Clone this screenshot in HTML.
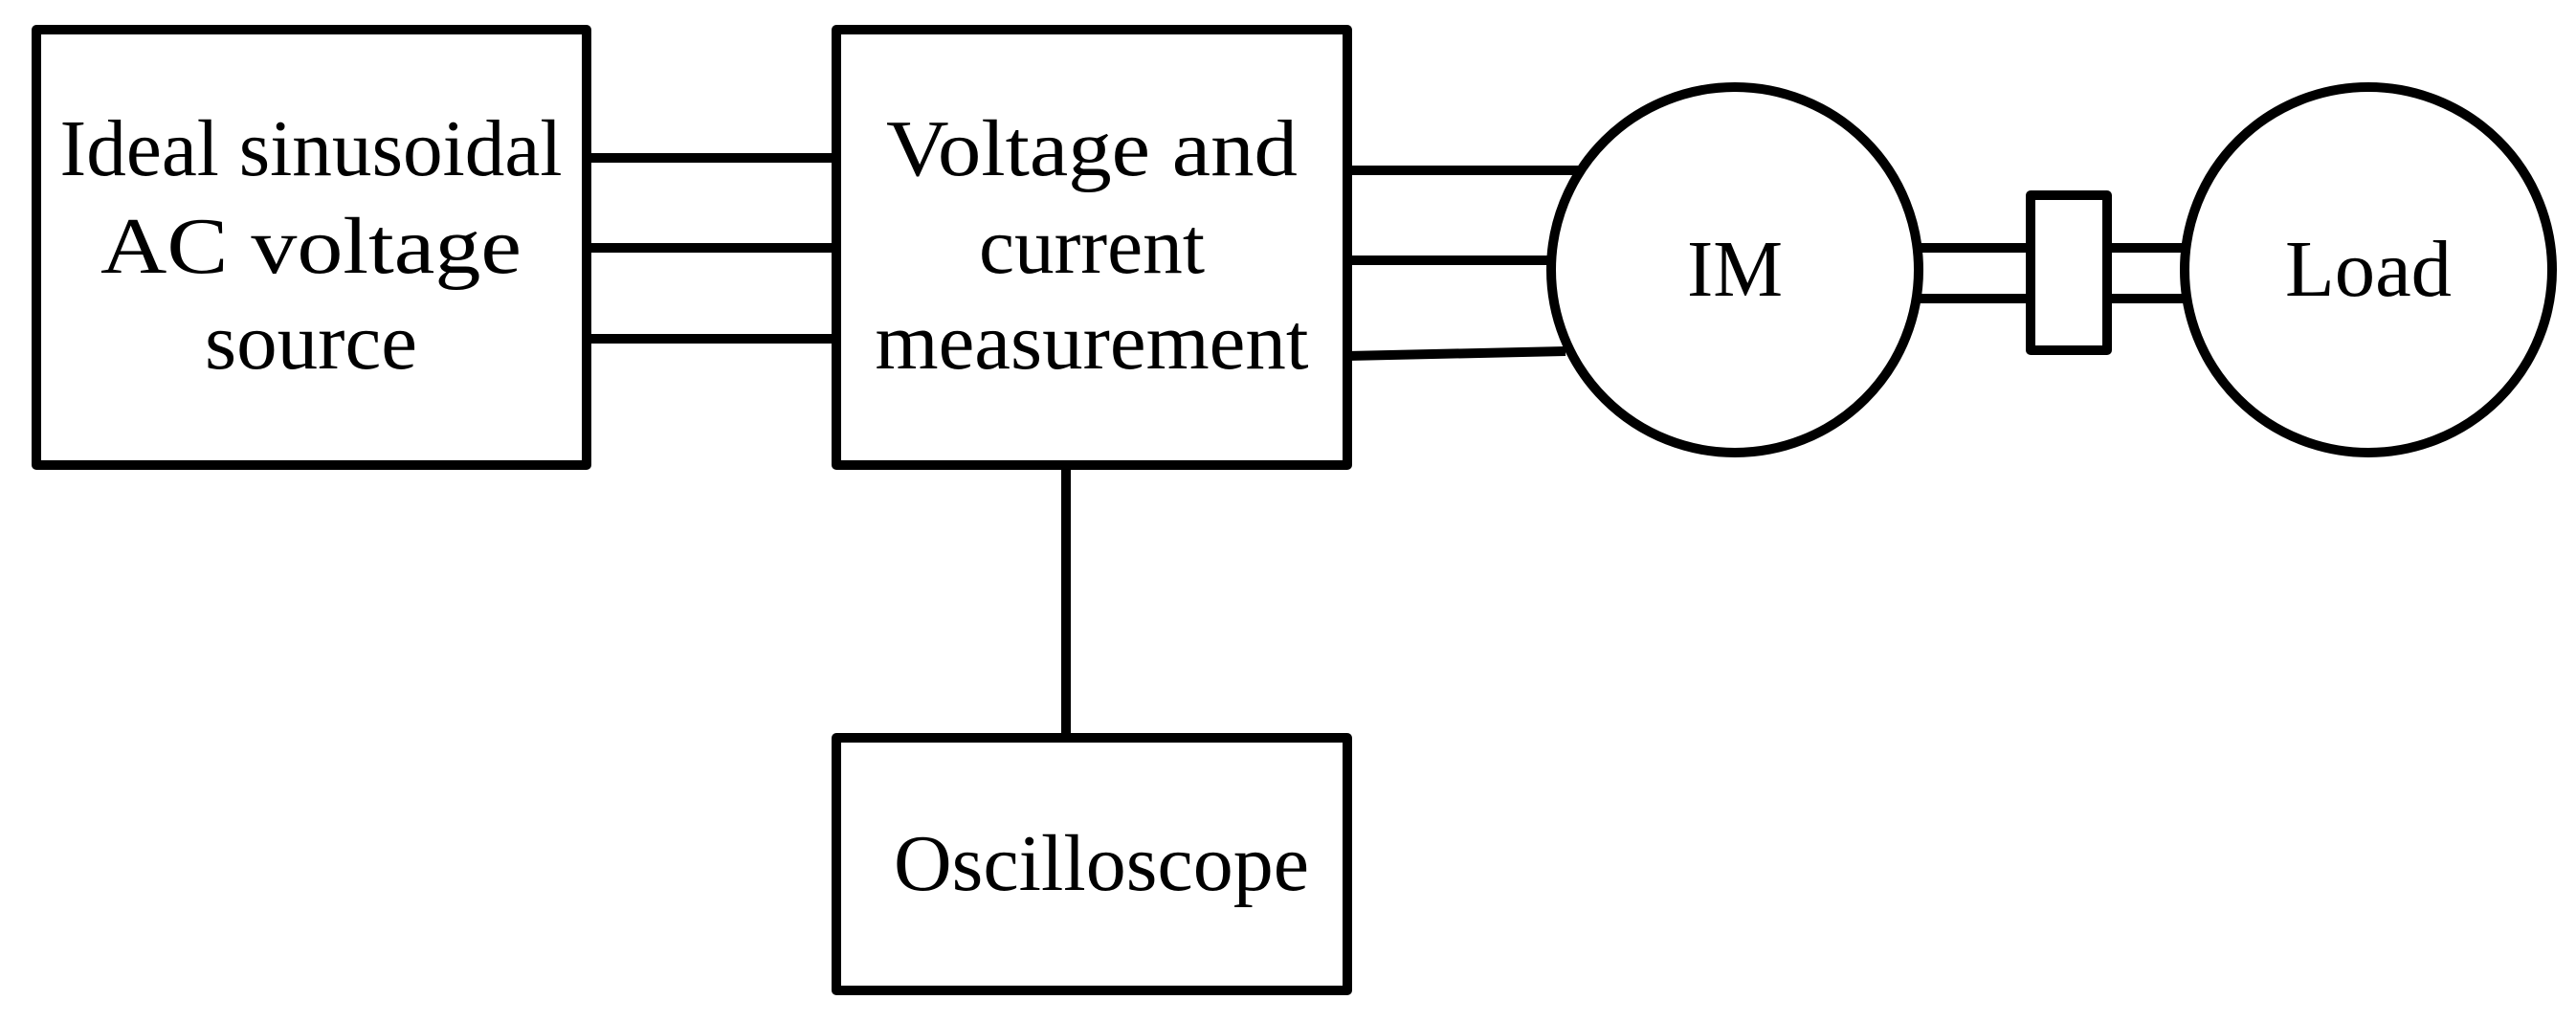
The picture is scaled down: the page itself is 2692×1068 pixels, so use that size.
<!DOCTYPE html>
<html><head><meta charset="utf-8"><style>html,body{margin:0;padding:0;background:#fff}svg{display:block}</style></head>
<body>
<svg width="2692" height="1068" viewBox="0 0 2692 1068" xmlns="http://www.w3.org/2000/svg">
<g fill="none" stroke="#000" stroke-width="10" stroke-linejoin="round">
<rect x="38" y="31" width="575" height="455"/>
<rect x="874" y="31" width="534" height="455"/>
<rect x="874" y="771" width="534" height="264"/>
<ellipse cx="1813" cy="282" rx="192" ry="191"/>
<ellipse cx="2475" cy="282" rx="192" ry="191"/>
<rect x="2122" y="204" width="80" height="162"/>
<line x1="613" y1="165" x2="874" y2="165"/>
<line x1="613" y1="259" x2="874" y2="259"/>
<line x1="613" y1="354" x2="874" y2="354"/>
<line x1="1114" y1="486" x2="1114" y2="771"/>
<line x1="1408" y1="178" x2="1652" y2="178"/>
<line x1="1408" y1="272" x2="1621" y2="272"/>
<line x1="1408" y1="372" x2="1636" y2="367"/>
<line x1="2005" y1="259" x2="2122" y2="259"/>
<line x1="2005" y1="312" x2="2122" y2="312"/>
<line x1="2202" y1="259" x2="2284" y2="259"/>
<line x1="2202" y1="312" x2="2284" y2="312"/>
</g>
<g font-family="Liberation Serif, serif" font-size="84" fill="#000" text-anchor="middle">
<text x="325" y="183" textLength="525" lengthAdjust="spacingAndGlyphs">Ideal sinusoidal</text>
<text x="325" y="285" textLength="440" lengthAdjust="spacingAndGlyphs">AC voltage</text>
<text x="325" y="385" textLength="222" lengthAdjust="spacingAndGlyphs">source</text>
<text x="1141" y="183" textLength="430" lengthAdjust="spacingAndGlyphs">Voltage  and</text>
<text x="1141" y="285" textLength="236" lengthAdjust="spacingAndGlyphs">current</text>
<text x="1141" y="385" textLength="453" lengthAdjust="spacingAndGlyphs">measurement</text>
<text x="1151" y="930" textLength="434" lengthAdjust="spacingAndGlyphs">Oscilloscope</text>
<text x="1813" y="309" textLength="100" lengthAdjust="spacingAndGlyphs">IM</text>
<text x="2475" y="309" textLength="174" lengthAdjust="spacingAndGlyphs">Load</text>
</g>
</svg>
</body></html>
